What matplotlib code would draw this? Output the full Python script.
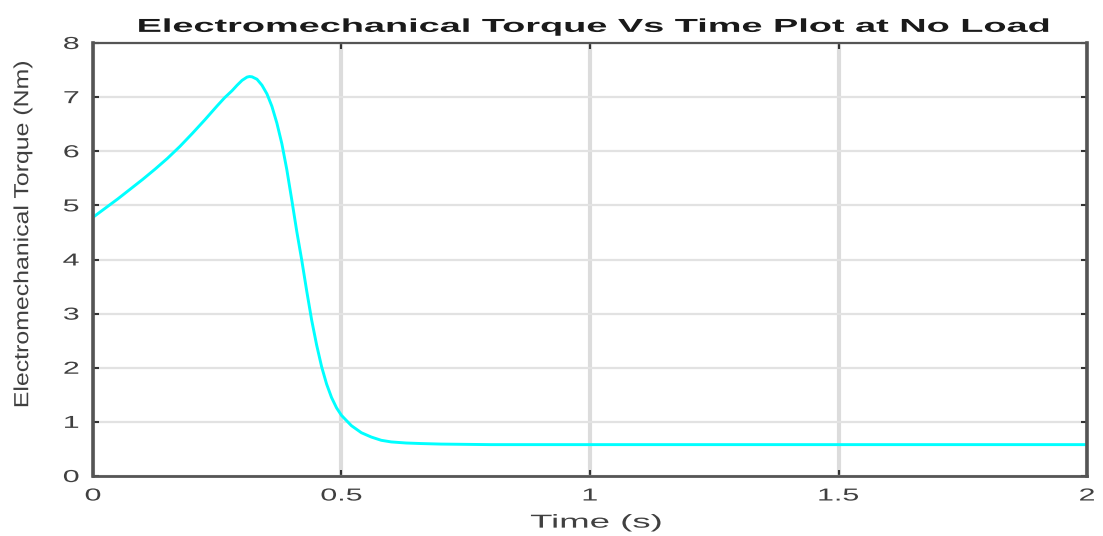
import matplotlib
matplotlib.use("Agg")
import matplotlib.pyplot as plt
from matplotlib import font_manager, patheffects
from matplotlib.path import Path
from matplotlib.transforms import Affine2D

# Electromechanical torque response at no load (time in s, torque in Nm)
time_s = [0.00, 0.025, 0.05, 0.075, 0.10, 0.125, 0.15, 0.175, 0.20, 0.225,
          0.25, 0.265, 0.28, 0.29, 0.30, 0.31, 0.315, 0.32, 0.33, 0.34,
          0.35, 0.36, 0.37, 0.38, 0.39, 0.40, 0.41, 0.42, 0.43, 0.44,
          0.45, 0.46, 0.47, 0.48, 0.49, 0.50, 0.52, 0.54, 0.56, 0.58,
          0.60, 0.63, 0.66, 0.70, 0.75, 0.80, 1.00, 1.50, 2.00]
torque_nm = [4.78, 4.95, 5.12, 5.30, 5.48, 5.67, 5.87, 6.09, 6.33, 6.58,
             6.84, 6.99, 7.12, 7.22, 7.31, 7.37, 7.38, 7.375, 7.33, 7.22,
             7.06, 6.83, 6.52, 6.14, 5.66, 5.10, 4.52, 3.99, 3.42, 2.88,
             2.42, 2.02, 1.70, 1.45, 1.26, 1.12, 0.93, 0.80, 0.72, 0.66,
             0.63, 0.61, 0.60, 0.59, 0.585, 0.58, 0.58, 0.58, 0.58]

x_ticks = [0, 0.5, 1, 1.5, 2]
x_tick_labels = ["0", "0.5", "1", "1.5", "2"]
y_ticks = [0, 1, 2, 3, 4, 5, 6, 7, 8]


class Stretch(patheffects.AbstractPathEffect):
    """Scale rendered glyph outlines along the text direction (sx) and
    across it (sy), about the glyph centre or its right edge."""

    def __init__(self, sx=1.0, sy=1.0, anchor="center"):
        super().__init__()
        self.sx, self.sy, self.anchor = sx, sy, anchor

    def draw_path(self, renderer, gc, tpath, affine, rgbFace=None):
        verts = tpath.vertices
        if tpath.codes is not None:
            verts = verts[tpath.codes != Path.CLOSEPOLY]
        if len(verts):
            x0, x1 = verts[:, 0].min(), verts[:, 0].max()
            y0, y1 = verts[:, 1].min(), verts[:, 1].max()
            cx = x1 if self.anchor == "right" else 0.5 * (x0 + x1)
            cy = 0.5 * (y0 + y1)
            pre = (Affine2D().translate(-cx, -cy)
                   .scale(self.sx, self.sy).translate(cx, cy))
            affine = pre + affine
        renderer.draw_path(gc, tpath, affine, rgbFace)


available = {f.name for f in font_manager.fontManager.ttflist}
base_font = "Liberation Sans" if "Liberation Sans" in available else "DejaVu Sans"
plt.rcParams["font.family"] = [base_font, "DejaVu Sans"]

fig = plt.figure(figsize=(11.03, 5.36), dpi=100)
ax = fig.add_axes([0.0843, 0.1119, 0.9012, 0.8079])

ax.plot(time_s, torque_nm, color="#00FFFF", lw=2.1, solid_joinstyle="round")

ax.set_xlim(0, 2)
ax.set_ylim(0, 8)
ax.set_xticks(x_ticks)
ax.set_xticklabels(x_tick_labels)
ax.set_yticks(y_ticks)

ax.grid(axis="x", color="#dcdcdc", lw=3.0)
ax.grid(axis="y", color="#e2e2e2", lw=1.6)
ax.set_axisbelow(True)

spine_color = "#555555"
for side, lw in (("left", 2.6), ("right", 2.6), ("top", 1.6), ("bottom", 2.0)):
    ax.spines[side].set_color(spine_color)
    ax.spines[side].set_linewidth(lw)

ax.tick_params(axis="both", which="both", direction="in", length=4, width=1.5,
               color="#333333", top=True, right=True, labelsize=12.5,
               labelcolor="#404040")
ax.tick_params(axis="y", pad=10)
ax.tick_params(axis="x", pad=9)

for lbl in ax.get_xticklabels():
    lbl.set_path_effects([Stretch(sx=1.75)])
for lbl in ax.get_yticklabels():
    lbl.set_path_effects([Stretch(sx=1.75, anchor="right")])

title = ax.set_title("Electromechanical Torque Vs Time Plot at No Load",
                     fontsize=13.5, fontweight="bold", color="#1a1a1a", pad=8)
title.set_x(0.5035)
title.set_path_effects([Stretch(sx=2.02)])

xlab = ax.set_xlabel("Time (s)", fontsize=13.5, color="#404040", labelpad=8)
ax.xaxis.label.set_x(0.506)
xlab.set_path_effects([Stretch(sx=1.95)])

ylab = ax.set_ylabel("Electromechanical Torque (Nm)", fontsize=17.9,
                     color="#404040")
ax.yaxis.set_label_coords(-0.0590, 0.557)
ylab.set_path_effects([Stretch(sy=0.82)])

fig.savefig("out.png", dpi=100, facecolor="white")
